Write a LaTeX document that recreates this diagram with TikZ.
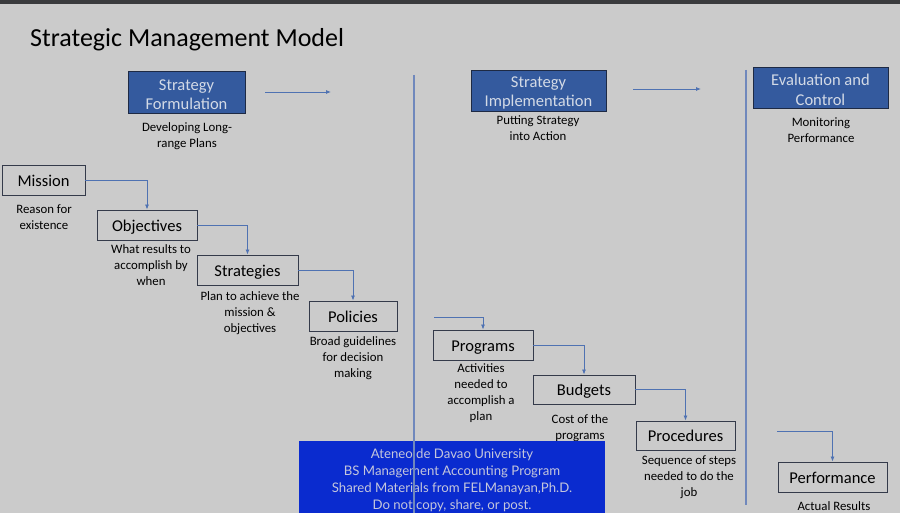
\documentclass[tikz,border=0pt]{standalone}
\usepackage{fontspec}
\setmainfont{Carlito}
\newfontfamily\wmfont{Lato}
\usetikzlibrary{arrows.meta}
\definecolor{bg}{HTML}{CBCBCB}
\definecolor{topbar}{HTML}{3A3B3D}
\definecolor{hdrfill}{HTML}{345A9E}
\definecolor{hdrdraw}{HTML}{1E2A44}
\definecolor{hdrtext}{HTML}{D3DAE6}
\definecolor{boxdraw}{HTML}{343A4A}
\definecolor{connc}{HTML}{4F72B2}
\definecolor{vlinec}{HTML}{7088BC}
\definecolor{wmfill}{HTML}{0A2BCF}
\definecolor{wmtext}{HTML}{C4C6DC}
\tikzset{
  x=1pt, y=-1pt,
  hdr/.style={draw=hdrdraw, line width=1pt, fill=hdrfill, text=hdrtext, inner sep=0pt,
    align=center, font=\fontsize{16.5}{19.5}\selectfont},
  stepbox/.style={draw=boxdraw, line width=0.9pt, inner sep=0pt, minimum height=30pt,
    text height=12.5pt, text depth=0pt, font=\fontsize{16.5}{19}\selectfont},
  capt/.style={anchor=north, inner sep=0pt, align=center, font=\fontsize{12.8}{16}\selectfont},
  conn/.style={draw=connc, line width=0.8pt, -{Latex[length=5pt,width=4pt]}},
  vline/.style={draw=vlinec, line width=1.4pt},
}
\begin{document}
\begin{tikzpicture}
\useasboundingbox (0,0) rectangle (900,513);
\fill[bg] (0,0) rectangle (900,513);
\fill[topbar] (0,0) rectangle (900,4);

\node[anchor=base west, inner sep=0pt, font=\fontsize{26}{30}\selectfont] (title) at (30,47) {Strategic Management Model};

% header boxes
\node[hdr, minimum width=117pt, minimum height=42pt] (sf) at (186.5,93) {\rule{0pt}{14pt}Strategy\\Formulation};
\node[hdr, minimum width=135pt, minimum height=41pt] (si) at (538.5,91.5) {\rule{0pt}{14pt}Strategy\\Implementation};
\node[hdr, minimum width=135pt, minimum height=41pt] (ec) at (820.5,88.5) {\rule{0pt}{14pt}Evaluation and\\Control};

\node[capt] (sfc) at (187,122) {Developing Long-\\range Plans};
\node[capt] (sic) at (538,115) {Putting Strategy\\into Action};
\node[capt] (ecc) at (821,117) {Monitoring\\Performance};

\coordinate (a1s) at (265,92);
\coordinate (a1e) at (331,92);
\coordinate (a2s) at (633,89);
\coordinate (a2e) at (701,89);
\draw[conn] (a1s) -- (a1e);
\draw[conn] (a2s) -- (a2e);

% step boxes
\node[stepbox, minimum width=83pt] (mission) at (43.5,180) {Mission};
\node[stepbox, minimum width=100pt] (objectives) at (147,225) {Objectives};
\node[stepbox, minimum width=101pt] (strategies) at (247.5,270) {Strategies};
\node[stepbox, minimum width=88pt] (policies) at (353,316) {Policies};
\node[stepbox, minimum width=100pt] (programs) at (483,345) {Programs};
\node[stepbox, minimum width=102pt, minimum height=29pt] (budgets) at (584,389.5) {Budgets};
\node[stepbox, minimum width=99pt, minimum height=29pt] (procedures) at (685.5,435.5) {Procedures};
\node[stepbox, minimum width=109pt] (performance) at (832.5,477) {Performance};

% captions
\node[capt] (missionc) at (44,205) {Reason for\\existence};
\node[capt] (objectivesc) at (151,244) {What results to\\accomplish by\\when};
\node[capt] (strategiesc) at (250,291) {Plan to achieve the\\mission \&\\objectives};
\node[capt] (policiesc) at (353,336) {Broad guidelines\\for decision\\making};
\node[capt] (programsc) at (481,363) {Activities\\needed to\\accomplish a\\plan};
\node[capt] (budgetsc) at (580,414) {Cost of the\\programs};
\node[capt] (proceduresc) at (689,456) {Sequence of steps\\needed to do the\\job};
\node[capt] (performancec) at (834,501) {Actual Results};

% connectors
\draw[conn] (mission.east) -| (objectives.north);
\draw[conn] (objectives.east) -| (strategies.north);
\draw[conn] (strategies.east) -| (policies.north);
\coordinate (progin) at (434,317);
\draw[conn] (progin) -| (programs.north);
\draw[conn] (programs.east) -| (budgets.north);
\draw[conn] (budgets.east) -| (procedures.north);
\coordinate (perfin) at (777,431);
\draw[conn] (perfin) -| (performance.north);

% watermark
\node[fill=wmfill, minimum width=306pt, minimum height=72pt, inner sep=0pt, anchor=north west] (wm) at (299,441) {};
\node[text=wmtext, align=center, inner sep=0pt, anchor=north, font=\wmfont\fontsize{13.2}{17}\selectfont] (wmt) at (452,448.5)
  {Ateneo de Davao University\\BS Management Accounting Program\\Shared Materials from FELManayan,Ph.D.\\Do not copy, share, or post.};

% vertical separators
\coordinate (v1t) at (414,75);
\coordinate (v1b) at (414,513);
\coordinate (v2t) at (746,70);
\coordinate (v2b) at (746,505);
\draw[vline] (v1t) -- (v1b);
\draw[vline] (v2t) -- (v2b);
\end{tikzpicture}
\end{document}
